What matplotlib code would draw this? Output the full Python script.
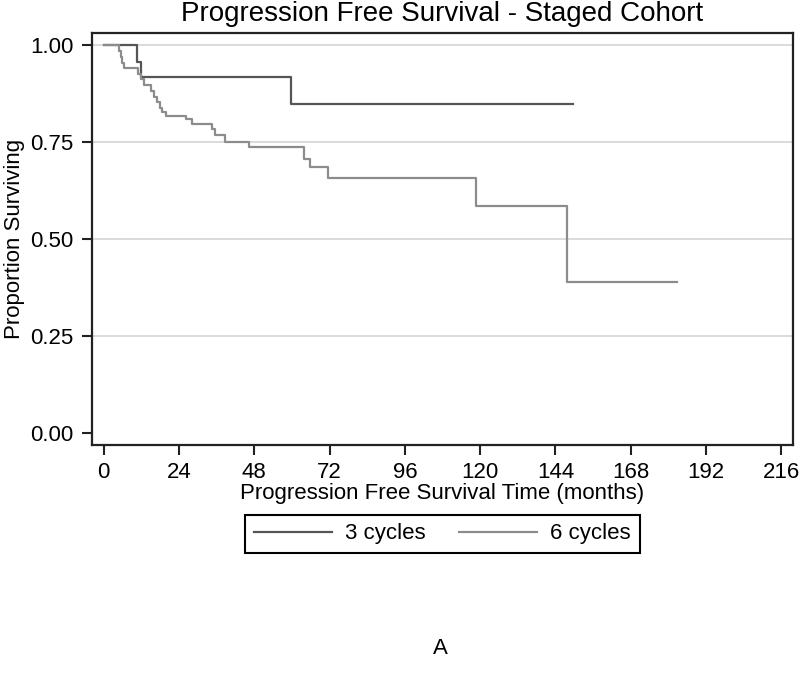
import numpy as np
import matplotlib
matplotlib.use("Agg")
import matplotlib.pyplot as plt

plt.rcParams['font.family'] = ['Liberation Sans Narrow', 'Liberation Sans', 'DejaVu Sans']

# Kaplan-Meier step curves (months, proportion)
t3 = [0, 10.5, 12.0, 59.8, 149.6]
s3 = [1.00, 0.958, 0.917, 0.848, 0.848]

t6 = [0, 5.0, 5.5, 6.0, 6.5, 11.0, 12.0, 13.0, 15.0, 16.0, 17.0, 18.0, 18.5,
      20.0, 26.3, 28.1, 34.6, 35.6, 38.6, 46.2, 64.0, 65.7, 71.6, 118.6, 147.6, 182.7]
s6 = [1.00, 0.985, 0.970, 0.955, 0.941, 0.927, 0.912, 0.897, 0.882, 0.867, 0.853,
      0.838, 0.829, 0.819, 0.809, 0.796, 0.785, 0.770, 0.750, 0.737, 0.708, 0.686,
      0.658, 0.585, 0.390, 0.390]

xticks = list(range(0, 217, 24))
yticks = [0.00, 0.25, 0.50, 0.75, 1.00]

fig = plt.figure(figsize=(8, 6.84), dpi=100)
ax = fig.add_axes([0.1146, 0.3494, 0.877, 0.602])

for y in yticks[1:]:
    ax.axhline(y, color='#d4d4d4', lw=1.2, zorder=0)

ax.step(t3, s3, where='post', color='#555555', lw=1.6, label='3 cycles')
ax.step(t6, s6, where='post', color='#8c8c8c', lw=1.6, label='6 cycles')

ax.set_xlim(-3.8, 219.8)
ax.set_ylim(-0.03, 1.031)
ax.set_xticks(xticks)
ax.set_yticks(yticks)
ax.set_yticklabels(['%.2f' % v for v in yticks])
ax.tick_params(labelsize=16, length=7, width=1.5, color='#222222')
ax.tick_params(axis='y', pad=6)
ax.tick_params(axis='x', pad=5)
for sp in ax.spines.values():
    sp.set_linewidth(1.6)
    sp.set_color('#222222')

ax.set_title('Progression Free Survival - Staged Cohort', fontsize=20, pad=9)
ax.set_xlabel('Progression Free Survival Time (months)', fontsize=16, labelpad=0)
ax.set_ylabel('Proportion Surviving', fontsize=16, labelpad=4)

leg = fig.legend(loc='center', bbox_to_anchor=(0.553, 1 - 534 / 684), ncol=2,
                 fontsize=16, fancybox=False, edgecolor='black', framealpha=1,
                 handlelength=3.5, handletextpad=0.6, columnspacing=1.5,
                 borderpad=0.4)
leg.get_frame().set_linewidth(1.5)

fig.text(0.551, 1 - 649 / 684, 'A', fontsize=16, ha='center', va='center')

fig.savefig('out.png', dpi=100)
